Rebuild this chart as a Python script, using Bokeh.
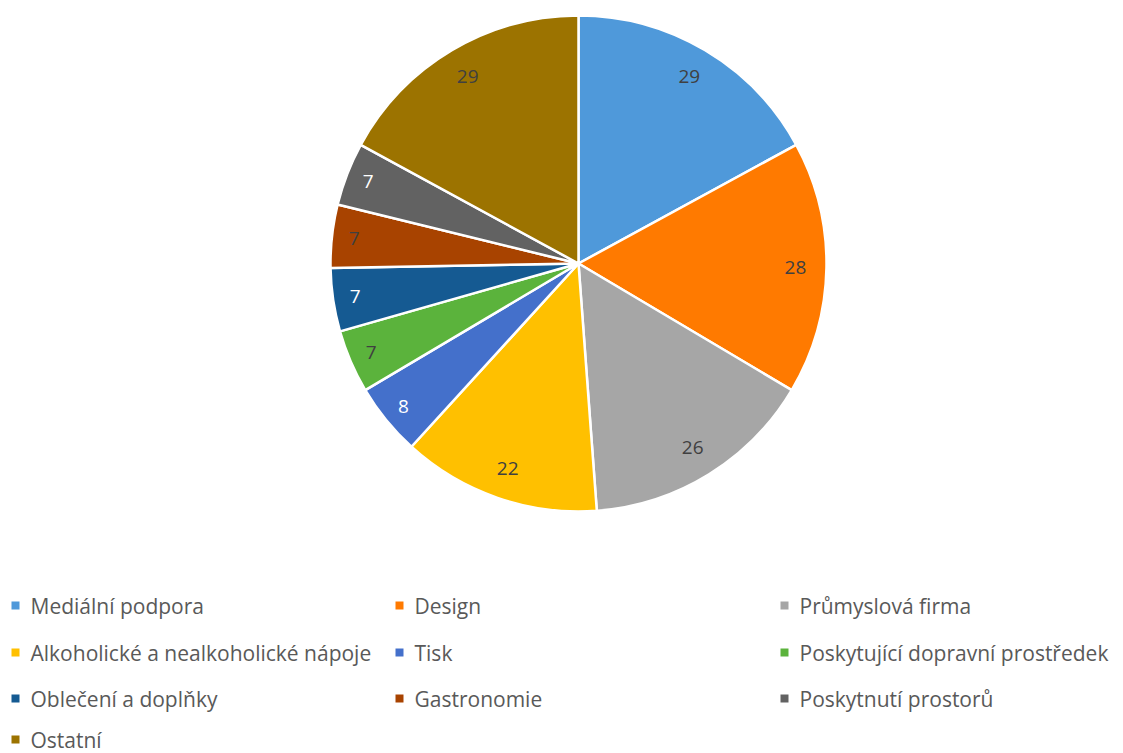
import math
from bokeh.plotting import figure
from bokeh.models import Range1d, ColumnDataSource
from bokeh.core.properties import value
from bokeh.embed import file_html
from bokeh.resources import INLINE

categories = ["Mediální podpora", "Design", "Průmyslová firma",
              "Alkoholické a nealkoholické nápoje", "Tisk",
              "Poskytující dopravní prostředek", "Oblečení a doplňky",
              "Gastronomie", "Poskytnutí prostorů", "Ostatní"]
values = [29, 28, 26, 22, 8, 7, 7, 7, 7, 29]
colors = ["#4F99DA", "#FF7A00", "#A6A6A6", "#FFC000", "#4470CB",
          "#5BB33C", "#155A92", "#A84300", "#626262", "#9C7300"]
label_colors = ["#404040", "#404040", "#404040", "#404040", "#FFFFFF",
                "#404040", "#FFFFFF", "#404040", "#FFFFFF", "#404040"]

W, H = 1123, 753
p = figure(width=W, height=H, output_backend="svg", toolbar_location=None,
           x_range=Range1d(0, W), y_range=Range1d(0, H), min_border=0)
p.axis.visible = False
p.grid.visible = False
p.outline_line_color = None
p.background_fill_color = "white"

cx, cy, R = 578, H - 263, 248
total = sum(values)
starts, ends, lx, ly = [], [], [], []
cum = 0
for v in values:
    a0 = math.pi / 2 - (cum + v) / total * 2 * math.pi
    a1 = math.pi / 2 - cum / total * 2 * math.pi
    starts.append(a0)
    ends.append(a1)
    mid = (a0 + a1) / 2
    rr = 0.875 if v > 15 else 0.91
    lx.append(cx + rr * R * math.cos(mid))
    ly.append(cy + rr * R * math.sin(mid))
    cum += v

src = ColumnDataSource(dict(start=starts, end=ends, color=colors,
                            lx=lx, ly=ly, txt=[str(v) for v in values],
                            tc=label_colors))
p.wedge(x=cx, y=cy, radius=R, start_angle="start", end_angle="end",
        fill_color="color", line_color="white", line_width=2.5, source=src)
p.text(x="lx", y="ly", text="txt", text_color="tc", text_align="center",
       text_baseline="middle", text_font=value("Open Sans"), text_font_size="19px",
       source=src)

# legend
col_x = [15, 399, 784]
row_y = [605, 652, 698, 739]
leg_x, leg_y = [], []
for i in range(len(categories)):
    leg_x.append(col_x[i % 3])
    leg_y.append(H - row_y[i // 3])
lsrc = ColumnDataSource(dict(x=leg_x, y=leg_y, tx=[x + 15 for x in leg_x],
                             name=categories, color=colors))
p.scatter(x="x", y="y", marker="square", size=8, fill_color="color",
          line_color=None, source=lsrc)
p.text(x="tx", y="y", text="name", text_color="#595959", text_align="left",
       text_baseline="middle", text_font=value("Open Sans"), text_font_size="21px",
       source=lsrc)

open("out.html", "w").write(file_html(p, INLINE))
